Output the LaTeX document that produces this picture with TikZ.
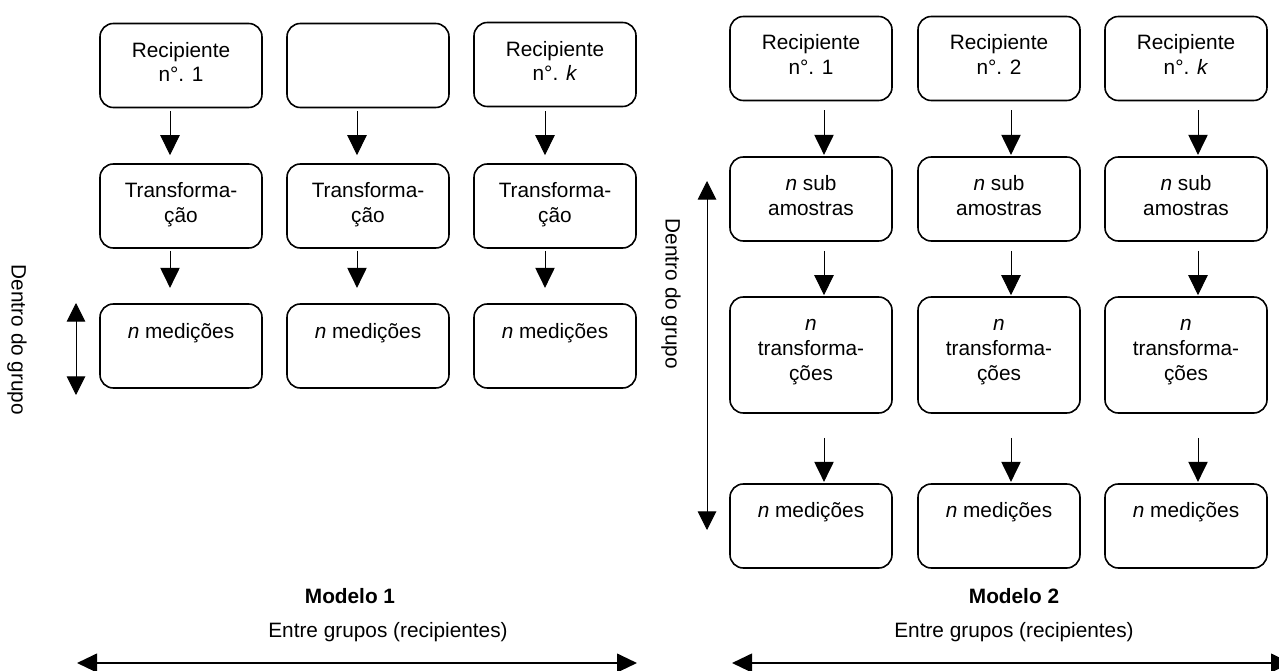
\documentclass[tikz,border=0pt]{standalone}
\usepackage{fontspec}
\setmainfont{Liberation Sans}
\usetikzlibrary{arrows.meta}
\tikzset{
  box/.style={draw, line width=1.2pt, rounded corners=10pt, minimum width=121.5pt, minimum height=63pt, inner sep=0pt},
  tallbox/.style={box, minimum height=87pt},
  txt/.style={anchor=north, align=center, inner sep=0pt, font=\fontsize{15.6pt}{18.4pt}\selectfont},
  lab/.style={anchor=base, inner sep=0pt, font=\fontsize{15.6pt}{18.4pt}\selectfont},
  head/.style={anchor=base, inner sep=0pt, font=\fontsize{15.6pt}{18.4pt}\selectfont\bfseries},
  side/.style={inner sep=0pt, rotate=-90, font=\fontsize{15.6pt}{18.4pt}\selectfont},
  arr/.style={-{Triangle[length=15pt,width=14.5pt]}, line width=0.75pt},
  dbl/.style={{Triangle[length=14pt,width=14pt]}-{Triangle[length=14pt,width=14pt]}, line width=0.75pt},
  wide/.style={{Triangle[length=15pt,width=14pt]}-{Triangle[length=15pt,width=14pt]}, line width=1.5pt}
}
\begin{document}
\begin{tikzpicture}[x=0.75pt,y=-0.75pt]
\useasboundingbox (0,0) rectangle (1279,671);
% Modelo 1
\node[box] (a11) at (181,65.5) {};
\node[box] (a12) at (368,65.5) {};
\node[box] (a13) at (555,64.5) {};
\node[box] (a21) at (181,206) {};
\node[box] (a22) at (368,206) {};
\node[box] (a23) at (555,206) {};
\node[box] (a31) at (181,346) {};
\node[box] (a32) at (368,346) {};
\node[box] (a33) at (555,346) {};
\node[txt] (a11t) at (181,40) {\strut Recipiente\\n°. 1};
\node[txt] (a13t) at (555,39) {\strut Recipiente\\n°. \textit{k}};
\node[txt] (a21t) at (181,180.5) {\strut Transforma-\\ção};
\node[txt] (a22t) at (368,180.5) {\strut Transforma-\\ção};
\node[txt] (a23t) at (555,180.5) {\strut Transforma-\\ção};
\node[txt] (a31t) at (181,321) {\strut\textit{n} medições};
\node[txt] (a32t) at (368,321) {\strut\textit{n} medições};
\node[txt] (a33t) at (555,321) {\strut\textit{n} medições};
\draw[arr, shorten <=2.25pt, shorten >=6pt] ([xshift=-8.25pt]a11.south) -- ([xshift=-8.25pt]a21.north);
\draw[arr, shorten <=2.25pt, shorten >=6pt] ([xshift=-8.25pt]a12.south) -- ([xshift=-8.25pt]a22.north);
\draw[arr, shorten <=3pt, shorten >=6pt] ([xshift=-7.5pt]a13.south) -- ([xshift=-7.5pt]a23.north);
\draw[arr, shorten <=1.5pt, shorten >=11.5pt] ([xshift=-8.25pt]a21.south) -- ([xshift=-8.25pt]a31.north);
\draw[arr, shorten <=1.5pt, shorten >=11.5pt] ([xshift=-8.25pt]a22.south) -- ([xshift=-8.25pt]a32.north);
\draw[arr, shorten <=1.5pt, shorten >=11.5pt] ([xshift=-7.5pt]a23.south) -- ([xshift=-7.5pt]a33.north);
\node[side] (a0) at (17,340) {Dentro do grupo};
\coordinate (a0u) at (76,303);
\coordinate (a0d) at (76,395);
\draw[dbl] (a0u) -- (a0d);
\node[head] (m1) at (350,603) {Modelo 1};
\node[lab] (e1) at (388,637) {Entre grupos (recipientes)};
\coordinate (e1l) at (77,663);
\coordinate (e1r) at (637,663);
\draw[wide] (e1l) -- (e1r);
% Modelo 2
\node[box] (b11) at (811,58.5) {};
\node[box] (b12) at (999,58.5) {};
\node[box] (b13) at (1186,58.5) {};
\node[box] (b21) at (811,199) {};
\node[box] (b22) at (999,199) {};
\node[box] (b23) at (1186,199) {};
\node[tallbox] (b31) at (811,355) {};
\node[tallbox] (b32) at (999,355) {};
\node[tallbox] (b33) at (1186,355) {};
\node[box] (b41) at (811,526) {};
\node[box] (b42) at (999,526) {};
\node[box] (b43) at (1186,526) {};
\node[txt] (b11t) at (811,32.5) {\strut Recipiente\\n°. 1};
\node[txt] (b12t) at (999,32.5) {\strut Recipiente\\n°. 2};
\node[txt] (b13t) at (1186,32.5) {\strut Recipiente\\n°. \textit{k}};
\node[txt] (b21t) at (811,173.5) {\strut\textit{n} sub\\amostras};
\node[txt] (b22t) at (999,173.5) {\strut\textit{n} sub\\amostras};
\node[txt] (b23t) at (1186,173.5) {\strut\textit{n} sub\\amostras};
\node[txt] (b31t) at (811,313.5) {\strut\textit{n}\\transforma-\\ções};
\node[txt] (b32t) at (999,313.5) {\strut\textit{n}\\transforma-\\ções};
\node[txt] (b33t) at (1186,313.5) {\strut\textit{n}\\transforma-\\ções};
\node[txt] (b41t) at (811,500.5) {\strut\textit{n} medições};
\node[txt] (b42t) at (999,500.5) {\strut\textit{n} medições};
\node[txt] (b43t) at (1186,500.5) {\strut\textit{n} medições};
\draw[arr, shorten <=6.75pt, shorten >=1pt] ([xshift=9.75pt]b11.south) -- ([xshift=9.75pt]b21.north);
\draw[arr, shorten <=6.75pt, shorten >=1pt] ([xshift=9pt]b12.south) -- ([xshift=9pt]b22.north);
\draw[arr, shorten <=6.75pt, shorten >=1pt] ([xshift=9pt]b13.south) -- ([xshift=9pt]b23.north);
\draw[arr, shorten <=6.75pt, shorten >=0.75pt] ([xshift=9.75pt]b21.south) -- ([xshift=9.75pt]b31.north);
\draw[arr, shorten <=6.75pt, shorten >=0.75pt] ([xshift=9pt]b22.south) -- ([xshift=9pt]b32.north);
\draw[arr, shorten <=6.75pt, shorten >=0.75pt] ([xshift=9pt]b23.south) -- ([xshift=9pt]b33.north);
\draw[arr, shorten <=18pt, shorten >=1pt] ([xshift=9.75pt]b31.south) -- ([xshift=9.75pt]b41.north);
\draw[arr, shorten <=18pt, shorten >=1pt] ([xshift=9pt]b32.south) -- ([xshift=9pt]b42.north);
\draw[arr, shorten <=18pt, shorten >=1pt] ([xshift=9pt]b33.south) -- ([xshift=9pt]b43.north);
\node[side] (b0) at (671,294) {Dentro do grupo};
\coordinate (b0u) at (707,181);
\coordinate (b0d) at (707,530);
\draw[dbl] (b0u) -- (b0d);
\node[head] (m2) at (1014,603) {Modelo 2};
\node[lab] (e2) at (1014,637) {Entre grupos (recipientes)};
\coordinate (e2l) at (732,663);
\coordinate (e2r) at (1291,663);
\draw[wide] (e2l) -- (e2r);
\end{tikzpicture}
\end{document}
